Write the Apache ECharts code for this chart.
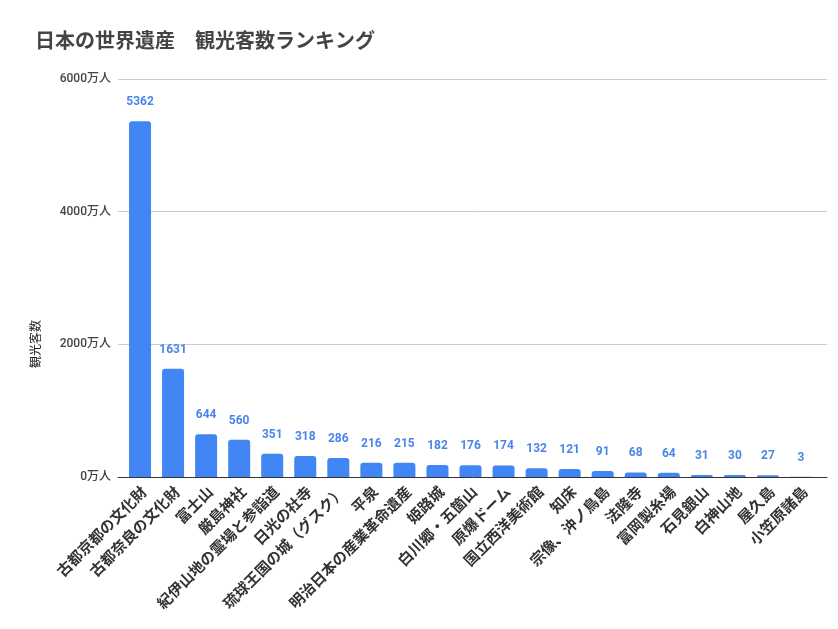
<!DOCTYPE html>
<html>
<head>
<meta charset="utf-8">
<script src="https://cdn.jsdelivr.net/npm/echarts@6/dist/echarts.min.js"></script>
<style>
  html, body { margin: 0; padding: 0; background: #fff; }
  #main { width: 838px; height: 629px; }
</style>
</head>
<body>
<div id="main"></div>
<script>
var sites = ['古都京都の文化財', '古都奈良の文化財', '富士山', '厳島神社', '紀伊山地の霊場と参詣道',
  '日光の社寺', '琉球王国の城（グスク）', '平泉', '明治日本の産業革命遺産', '姫路城', '白川郷・五箇山',
  '原爆ドーム', '国立西洋美術館', '知床', '宗像、沖ノ鳥島', '法隆寺', '富岡製糸場', '石見銀山',
  '白神山地', '屋久島', '小笠原諸島'];
var visitors = [5362, 1631, 644, 560, 351, 318, 286, 216, 215, 182, 176, 174, 132, 121, 91, 68, 64, 31, 30, 27, 3];
var yTicks = { min: 0, max: 6000, interval: 2000 };

var font = 'Roboto, "Noto Sans CJK JP", sans-serif';
var chart = echarts.init(document.getElementById('main'));

chart.setOption({
  backgroundColor: '#fff',
  textStyle: { fontFamily: font },
  title: {
    text: '日本の世界遺産　観光客数ランキング',
    left: 30,
    top: 28,
    textStyle: { fontSize: 20, fontWeight: 'bold', color: '#444', fontFamily: font }
  },
  graphic: [{
    type: 'text',
    x: 37,
    y: 344,
    rotation: Math.PI / 2,
    style: {
      text: '観光客数',
      fontSize: 12,
      fill: '#222',
      fontFamily: font,
      align: 'center',
      verticalAlign: 'middle'
    }
  }],
  grid: [
    { left: 118, right: 11, top: 79, bottom: 152 },
    { left: 123.5, right: 20.5, top: 79, bottom: 152 }
  ],
  xAxis: [
    {
      gridIndex: 0, type: 'category', data: [],
      axisLine: { show: true, lineStyle: { color: '#333', width: 1 } },
      axisTick: { show: false }, axisLabel: { show: false }
    },
    {
      gridIndex: 1, type: 'category', data: sites,
      axisLine: { show: false }, axisTick: { show: false },
      axisLabel: {
        rotate: 45, interval: 0, margin: 8,
        verticalAlign: 'top',
        fontSize: 15, fontWeight: 'bold', color: '#333', fontFamily: font
      }
    }
  ],
  yAxis: [
    {
      gridIndex: 0, type: 'value',
      min: yTicks.min, max: yTicks.max, interval: yTicks.interval,
      axisLine: { show: false }, axisTick: { show: false },
      splitLine: { lineStyle: { color: '#ccc' } },
      axisLabel: {
        formatter: function (v) { return v + '万人'; }, margin: 7,
        fontSize: 12, fontWeight: 500, color: '#444', fontFamily: font
      }
    },
    {
      gridIndex: 1, type: 'value',
      min: yTicks.min, max: yTicks.max, interval: yTicks.interval,
      show: false
    }
  ],
  series: [{
    type: 'bar',
    xAxisIndex: 1,
    yAxisIndex: 1,
    data: visitors,
    barWidth: 22,
    itemStyle: { color: '#4285f4', borderRadius: [3, 3, 0, 0] },
    label: {
      show: true, position: 'top', distance: 13,
      fontSize: 12, fontWeight: 'bold', color: '#4a86e8', fontFamily: font
    }
  }]
});
</script>
</body>
</html>
